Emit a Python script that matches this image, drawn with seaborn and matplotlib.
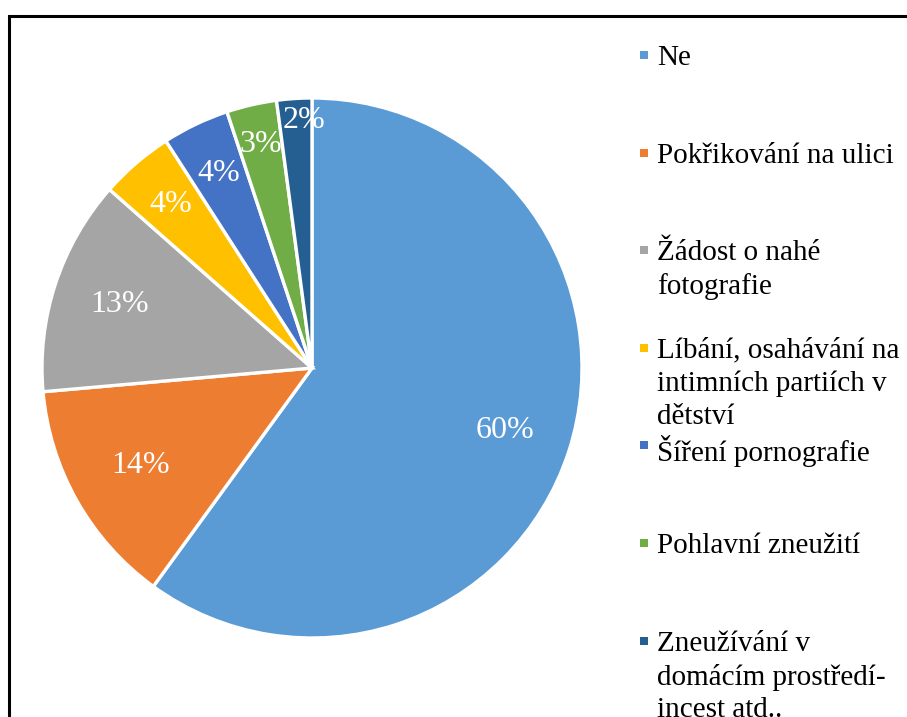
import numpy as np
import seaborn as sns
import matplotlib.pyplot as plt
from matplotlib.patches import Rectangle

# --- Data ---
categories = [
    'Ne',
    'Pokřikování na ulici',
    'Žádost o nahé\nfotografie',
    'Líbání, osahávání na\nintimních partiích v\ndětství',
    'Šíření pornografie',
    'Pohlavní zneužití',
    'Zneužívání v\ndomácím prostředí-\nincest atd..',
]
shares = [60.0, 13.6, 12.9, 4.4, 4.0, 3.0, 2.1]
colors = ['#5B9BD5', '#ED7D31', '#A5A5A5', '#FFC000', '#4472C4', '#70AD47', '#255E91']
# radial position of each percentage label (fraction of radius)
label_dist = [0.75, 0.73, 0.75, 0.80, 0.80, 0.85, 0.92]

sns.set_theme(style='white')
plt.rcParams['font.family'] = ['Liberation Serif', 'DejaVu Serif']

W, H = 907, 717
fig = plt.figure(figsize=(W / 100, H / 100), dpi=100)

# pie axes: centre (312, 368) px, radius 270 px
cx, cy, r = 312, 368, 270
ax = fig.add_axes([(cx - r) / W, (H - cy - r) / H, 2 * r / W, 2 * r / H])
palette = sns.color_palette(colors)
wedges, texts, autotexts = ax.pie(
    shares, colors=palette, startangle=90, counterclock=False,
    autopct='%.0f%%', pctdistance=0.75,
    wedgeprops=dict(edgecolor='white', linewidth=2.4),
    textprops=dict(color='white', fontsize=23))
for t, d in zip(autotexts, label_dist):
    x, y = t.get_position()
    s = d / 0.75
    t.set_position((x * s + (0.03 if d > 0.9 else 0), y * s))
ax.set_aspect('equal')
ax.set_xlim(-1, 1)
ax.set_ylim(-1, 1)

# legend, drawn entry by entry so each marker sits on the first line
top_px, step_px = 55, 97.6
for i, (lab, col) in enumerate(zip(categories, palette)):
    ypx = top_px + i * step_px
    fig.patches.append(Rectangle((640 / W, 1 - (ypx + 4) / H), 8 / W, 8 / H,
                                 transform=fig.transFigure, facecolor=col,
                                 edgecolor='none'))
    fig.text(657 / W, 1 - (ypx - 10) / H, lab, ha='left', va='top',
             fontsize=21, color='black', linespacing=1.33)

# outer frame (cut off at the right and bottom edges)
fig.patches.append(Rectangle((9 / W, -0.05), 1.2, 1 - 16 / H + 0.05,
                             transform=fig.transFigure, fill=False,
                             edgecolor='black', linewidth=2.2))

fig.savefig('out.png', dpi=100)
